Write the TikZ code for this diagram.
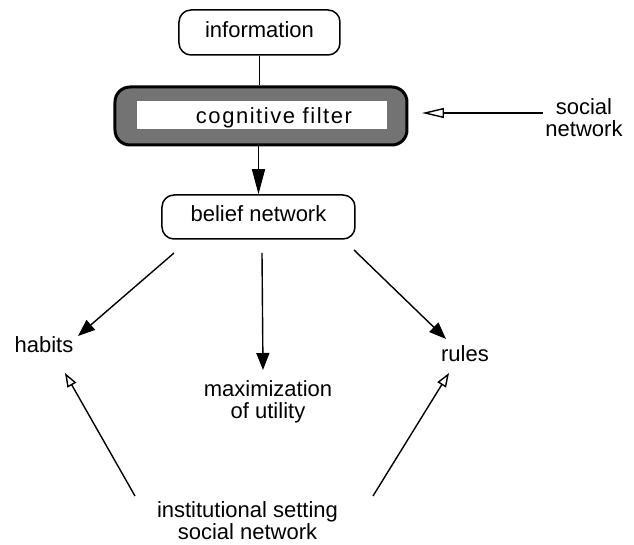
\documentclass[tikz,border=0pt]{standalone}
\usepackage{fontspec}
\setmainfont{Liberation Sans}
\usetikzlibrary{arrows.meta}
\begin{document}
\begin{tikzpicture}[x=0.5pt,y=-0.5pt,
  every node/.style={font=\fontsize{11}{11}\selectfont, inner sep=0pt},
  lbl/.style={anchor=base, align=center},
  roundbox/.style={draw, line width=0.75pt, rounded corners=6pt,
    text height=7.5pt, text depth=2.5pt},
  conn/.style={line width=0.7pt},
  solidarrow/.style={conn, -{Triangle[length=8.5pt,width=6.5pt]}},
  openarrow/.style={conn, -{Triangle[open,length=7pt,width=5pt]}}]
\useasboundingbox (0,0) rectangle (634,545);

% boxes
\node[roundbox, minimum width=80.5pt, minimum height=22.5pt] (info) at (259.5,32.5) {information};
\node[draw, line width=1.5pt, rounded corners=7.5pt, fill=black!55,
      minimum width=146pt, minimum height=29pt] (filterbox) at (261,116) {};
\node[fill=white, minimum width=125pt, minimum height=14pt] (filterinner) at (262,115) {};
\node[lbl] (filtertext) at (274,124) {\addfontfeature{LetterSpace=7}cognitive filter};
\node[roundbox, minimum width=96.5pt, minimum height=22pt] (belief) at (258.5,217) {belief network};

% labels (base = baseline of last line)
\node[lbl] (socialnet) at (584,137) {social\\network};
\node[lbl] (habits) at (44,353) {habits};
\node[lbl] (rules) at (465,362) {rules};
\node[lbl] (maxutil) at (268,419) {maximization\\of utility};
\node[lbl] (inst) at (247.5,540) {institutional setting\\social network};

% free ends
\coordinate (snstart) at (543,113);
\coordinate (sntip) at (422,113);
\coordinate (bl) at (174,253);
\coordinate (bm) at (262,253);
\coordinate (br) at (354,250);
\coordinate (habtip) at (78,336);
\coordinate (maxtip) at (263,370);
\coordinate (rultip) at (446,339);
\coordinate (ihab) at (135,496);
\coordinate (ihabtip) at (65,373);
\coordinate (irul) at (373,496);
\coordinate (irultip) at (449,373);

% connectors
\draw[conn] (info.south) -- (info.south |- filterbox.north);
\draw[conn, -{Triangle[length=12.5pt,width=6.5pt]}] (belief.north |- filterbox.south) -- (belief.north);
\draw[conn, -{Triangle[open,length=11pt,width=5pt]}] (snstart) -- (sntip);
\draw[solidarrow] (bl) -- (habtip);
\draw[solidarrow] (bm) -- (maxtip);
\draw[solidarrow] (br) -- (rultip);
\draw[openarrow] (ihab) -- (ihabtip);
\draw[openarrow] (irul) -- (irultip);
\end{tikzpicture}
\end{document}
